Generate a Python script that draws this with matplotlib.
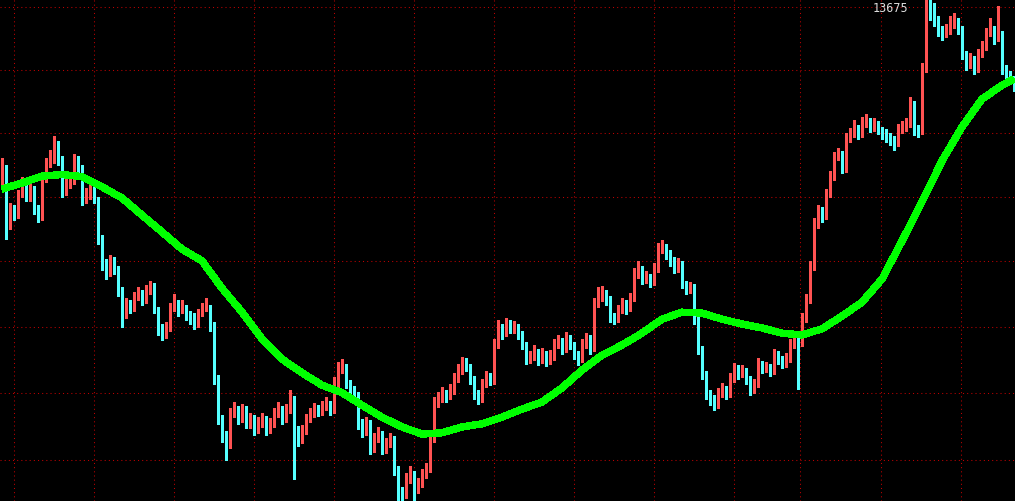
import matplotlib
matplotlib.use("Agg")
import matplotlib.pyplot as plt
from matplotlib.ticker import FixedLocator, NullLocator

# ---------------- data ----------------
opens = [
    13240, 13265, 13136, 13171, 13160, 13206, 13230, 13199, 13218, 13171,
    13153, 13241, 13276, 13288, 13324, 13288, 13213, 13230, 13237, 13284,
    13269, 13195, 13206, 13218, 13195, 13101, 13044, 13021, 13051, 13032,
    12981, 12929, 12952, 12940, 12968, 12974, 12963, 12981, 12991, 12940,
    12895, 12883, 12895, 12940, 12952, 12936, 12945, 12929, 12922, 12906,
    12929, 12940, 12945, 12906, 12781, 12691, 12657, 12635, 12702, 12713,
    12691, 12713, 12680, 12691, 12669, 12680, 12691, 12669, 12680, 12702,
    12713, 12691, 12713, 12736, 12669, 12646, 12664, 12691, 12702, 12713,
    12709, 12718, 12725, 12713, 12770, 12804, 12808, 12770, 12754, 12747,
    12680, 12664, 12680, 12624, 12646, 12657, 12624, 12635, 12646, 12579,
    12524, 12522, 12557, 12568, 12535, 12546, 12568, 12579, 12646, 12725,
    12736, 12747, 12740, 12754, 12781, 12799, 12822, 12808, 12781, 12747,
    12736, 12770, 12786, 12777, 12860, 12895, 12883, 12906, 12895, 12899,
    12883, 12860, 12826, 12831, 12844, 12826, 12838, 12822, 12831, 12860,
    12867, 12849, 12872, 12860, 12838, 12826, 12860, 12872, 12849, 12952,
    12963, 12974, 12963, 12922, 12917, 12936, 12952, 12940, 12963, 13021,
    13032, 13009, 13014, 13002, 13032, 13078, 13083, 13067, 13051, 13032,
    13044, 12998, 12986, 12991, 12917, 12849, 12792, 12747, 12736, 12725,
    12747, 12758, 12747, 12781, 12804, 12792, 12799, 12781, 12758, 12770,
    12815, 12804, 12808, 12799, 12838, 12826, 12815, 12826, 12860, 12872,
    12860, 12917, 12963, 13037, 13136, 13166, 13153, 13206, 13246, 13293,
    13300, 13265, 13335, 13347, 13359, 13347, 13371, 13378, 13364, 13371,
    13359, 13347, 13340, 13335, 13324, 13359, 13364, 13371, 13418, 13359,
    13354, 13502, 13646, 13634, 13622, 13598, 13586, 13593, 13610, 13617,
    13598, 13538, 13514, 13526, 13502, 13538, 13554, 13586, 13598, 13574,
    13586, 13502, 13490, 13478,
]
highs = [
    13290, 13275, 13185, 13180, 13215, 13245, 13240, 13230, 13225, 13180,
    13255, 13290, 13310, 13343, 13330, 13295, 13245, 13255, 13300, 13295,
    13275, 13220, 13230, 13225, 13200, 13110, 13055, 13065, 13060, 13040,
    12990, 12965, 12960, 12980, 12990, 12985, 12995, 13005, 13000, 12945,
    12905, 12910, 12955, 12975, 12960, 12960, 12950, 12935, 12930, 12940,
    12955, 12965, 12950, 12910, 12790, 12700, 12665, 12715, 12730, 12720,
    12725, 12720, 12705, 12700, 12695, 12705, 12698, 12692, 12715, 12730,
    12720, 12725, 12755, 12742, 12675, 12678, 12702, 12715, 12726, 12722,
    12732, 12740, 12732, 12785, 12820, 12826, 12815, 12778, 12765, 12752,
    12690, 12695, 12688, 12660, 12672, 12664, 12648, 12660, 12652, 12585,
    12540, 12570, 12585, 12575, 12560, 12580, 12592, 12660, 12740, 12752,
    12762, 12756, 12770, 12795, 12815, 12830, 12828, 12815, 12788, 12755,
    12782, 12798, 12795, 12872, 12915, 12905, 12920, 12915, 12912, 12905,
    12890, 12866, 12845, 12858, 12850, 12852, 12845, 12846, 12872, 12880,
    12875, 12888, 12880, 12866, 12845, 12872, 12885, 12880, 12965, 12990,
    12992, 12985, 12970, 12930, 12950, 12965, 12960, 12978, 13035, 13050,
    13040, 13028, 13020, 13046, 13092, 13100, 13090, 13075, 13060, 13058,
    13050, 13005, 13003, 12998, 12925, 12855, 12800, 12755, 12745, 12760,
    12772, 12766, 12795, 12818, 12812, 12812, 12805, 12788, 12782, 12828,
    12822, 12820, 12815, 12850, 12845, 12832, 12840, 12872, 12885, 12880,
    12930, 12975, 13050, 13150, 13180, 13175, 13218, 13260, 13305, 13315,
    13308, 13350, 13362, 13380, 13368, 13388, 13395, 13385, 13386, 13378,
    13365, 13358, 13350, 13342, 13372, 13378, 13385, 13436, 13425, 13368,
    13515, 13675, 13668, 13660, 13630, 13605, 13610, 13628, 13635, 13625,
    13605, 13545, 13540, 13532, 13550, 13568, 13600, 13625, 13605, 13653,
    13592, 13512, 13498, 13486,
]
lows = [
    13230, 13101, 13125, 13145, 13150, 13200, 13190, 13190, 13160, 13140,
    13145, 13235, 13270, 13280, 13275, 13200, 13205, 13220, 13230, 13255,
    13180, 13185, 13195, 13185, 13090, 13030, 13010, 13015, 13020, 12970,
    12900, 12920, 12930, 12935, 12960, 12950, 12955, 12975, 12930, 12880,
    12870, 12875, 12890, 12935, 12925, 12930, 12915, 12905, 12895, 12900,
    12925, 12935, 12890, 12770, 12680, 12640, 12600, 12625, 12695, 12680,
    12685, 12670, 12670, 12655, 12660, 12672, 12655, 12660, 12672, 12695,
    12680, 12685, 12705, 12557, 12630, 12638, 12658, 12685, 12695, 12698,
    12700, 12710, 12700, 12705, 12762, 12795, 12760, 12742, 12735, 12668,
    12650, 12655, 12612, 12618, 12640, 12612, 12615, 12628, 12565, 12505,
    12505, 12515, 12548, 12505, 12525, 12540, 12560, 12572, 12640, 12718,
    12728, 12730, 12735, 12748, 12775, 12792, 12798, 12770, 12735, 12725,
    12730, 12762, 12768, 12770, 12852, 12872, 12878, 12885, 12885, 12872,
    12848, 12815, 12818, 12825, 12812, 12818, 12810, 12815, 12825, 12852,
    12838, 12842, 12850, 12826, 12812, 12820, 12852, 12838, 12845, 12945,
    12958, 12950, 12910, 12905, 12910, 12930, 12928, 12935, 12958, 13012,
    12998, 13000, 12990, 12995, 13025, 13070, 13055, 13040, 13022, 13025,
    12988, 12975, 12978, 12905, 12838, 12780, 12735, 12722, 12710, 12715,
    12740, 12735, 12740, 12775, 12782, 12785, 12770, 12745, 12750, 12762,
    12795, 12796, 12788, 12792, 12815, 12805, 12808, 12820, 12852, 12758,
    12855, 12910, 12955, 13030, 13128, 13142, 13148, 13200, 13240, 13285,
    13255, 13258, 13328, 13340, 13335, 13340, 13365, 13352, 13355, 13348,
    13335, 13328, 13322, 13310, 13318, 13350, 13355, 13365, 13345, 13340,
    13348, 13495, 13620, 13605, 13580, 13570, 13578, 13585, 13600, 13585,
    13525, 13500, 13505, 13490, 13495, 13530, 13548, 13580, 13562, 13568,
    13490, 13478, 13465, 13450,
]
closes = [
    13265, 13136, 13171, 13160, 13206, 13230, 13199, 13218, 13171, 13153,
    13241, 13276, 13288, 13324, 13288, 13213, 13230, 13237, 13284, 13269,
    13195, 13206, 13218, 13195, 13101, 13044, 13021, 13051, 13032, 12981,
    12929, 12952, 12940, 12968, 12974, 12963, 12981, 12991, 12940, 12895,
    12883, 12895, 12940, 12952, 12936, 12945, 12929, 12922, 12906, 12929,
    12940, 12945, 12906, 12781, 12691, 12657, 12635, 12702, 12713, 12691,
    12713, 12680, 12691, 12669, 12680, 12691, 12669, 12680, 12702, 12713,
    12691, 12713, 12736, 12669, 12646, 12664, 12691, 12702, 12713, 12709,
    12718, 12725, 12713, 12770, 12804, 12808, 12770, 12754, 12747, 12680,
    12664, 12680, 12624, 12646, 12657, 12624, 12635, 12646, 12579, 12524,
    12522, 12557, 12568, 12535, 12546, 12568, 12579, 12646, 12725, 12736,
    12747, 12740, 12754, 12781, 12799, 12822, 12808, 12781, 12747, 12736,
    12770, 12786, 12777, 12860, 12895, 12883, 12906, 12895, 12899, 12883,
    12860, 12826, 12831, 12844, 12826, 12838, 12822, 12831, 12860, 12867,
    12849, 12872, 12860, 12838, 12826, 12860, 12872, 12849, 12952, 12963,
    12974, 12963, 12922, 12917, 12936, 12952, 12940, 12963, 13021, 13032,
    13009, 13014, 13002, 13032, 13078, 13083, 13067, 13051, 13032, 13044,
    12998, 12986, 12991, 12917, 12849, 12792, 12747, 12736, 12725, 12747,
    12758, 12747, 12781, 12804, 12792, 12799, 12781, 12758, 12770, 12815,
    12804, 12808, 12799, 12838, 12826, 12815, 12826, 12860, 12872, 12860,
    12917, 12963, 13037, 13136, 13166, 13153, 13206, 13246, 13293, 13300,
    13265, 13335, 13347, 13359, 13347, 13371, 13378, 13364, 13371, 13359,
    13347, 13340, 13335, 13324, 13359, 13364, 13371, 13418, 13359, 13354,
    13502, 13646, 13634, 13622, 13598, 13586, 13593, 13610, 13617, 13598,
    13538, 13514, 13526, 13502, 13538, 13554, 13586, 13598, 13574, 13586,
    13502, 13490, 13478, 13466,
]

# moving average (green line), sampled every 5 bars
ma_index = list(range(0, 251, 5)) + [253]
ma_values = [
    13218, 13232, 13248, 13252, 13247, 13223, 13197, 13157, 13118, 13078,
    13051, 12988, 12933, 12872, 12826, 12795, 12767, 12750, 12722, 12695,
    12673, 12657, 12660, 12673, 12680, 12695, 12713, 12729, 12761, 12801,
    12835, 12858, 12885, 12917, 12933, 12931, 12917, 12906, 12897, 12885,
    12881, 12895, 12924, 12956, 13009, 13097, 13188, 13284, 13364, 13430,
    13463, 13478,
]

grid_prices = [13650, 13500, 13350, 13200, 13050, 12900, 12750, 12600]
grid_bars = [3.075, 23.075, 43.075, 63.075, 83.075, 103.075, 123.075,
             143.075, 163.075, 183.075, 199.575, 219.825, 239.825]

# ---------------- drawing ----------------
UP = "#FF5252"
DOWN = "#55FFFF"
GRID = "#C00000"

fig = plt.figure(figsize=(10.15, 5.02), dpi=100, facecolor="black")
ax = fig.add_axes([0, 0, 1, 1], facecolor="black")

xs = list(range(len(closes)))
colors = [UP if c >= o else DOWN for o, c in zip(opens, closes)]
bottoms = [min(o, c) for o, c in zip(opens, closes)]
heights = [max(abs(c - o), 2) for o, c in zip(opens, closes)]

ax.vlines(xs, lows, highs, colors=colors, linewidth=0.75, antialiased=False, zorder=2)
ax.bar(xs, heights, bottom=bottoms, width=0.5, color=colors, linewidth=0,
       antialiased=False, zorder=3)

ax.plot(ma_index, ma_values, color="#00FF00", linewidth=4.6, antialiased=False,
        solid_capstyle="butt", solid_joinstyle="miter", zorder=5)

ax.set_yscale("log")
ax.set_ylim(12508, 13670)
ax.set_xlim(-0.5, 253.25)
ax.yaxis.set_major_locator(FixedLocator(grid_prices))
ax.yaxis.set_minor_locator(NullLocator())
ax.xaxis.set_major_locator(FixedLocator(grid_bars))
ax.xaxis.set_minor_locator(NullLocator())
ax.grid(True, color=GRID, linestyle=(0, (1, 3)), linewidth=0.75, zorder=0)
ax.set_axisbelow(True)
ax.tick_params(length=0, labelleft=False, labelbottom=False)
for s in ax.spines.values():
    s.set_visible(False)

ax.text(0.877, 0.997, f"{max(highs)}", transform=ax.transAxes, ha="center",
        va="top", color="#DDDDDD", fontsize=8.5, family="DejaVu Sans Mono",
        zorder=6)

fig.savefig("out.png", dpi=100, facecolor="black")
